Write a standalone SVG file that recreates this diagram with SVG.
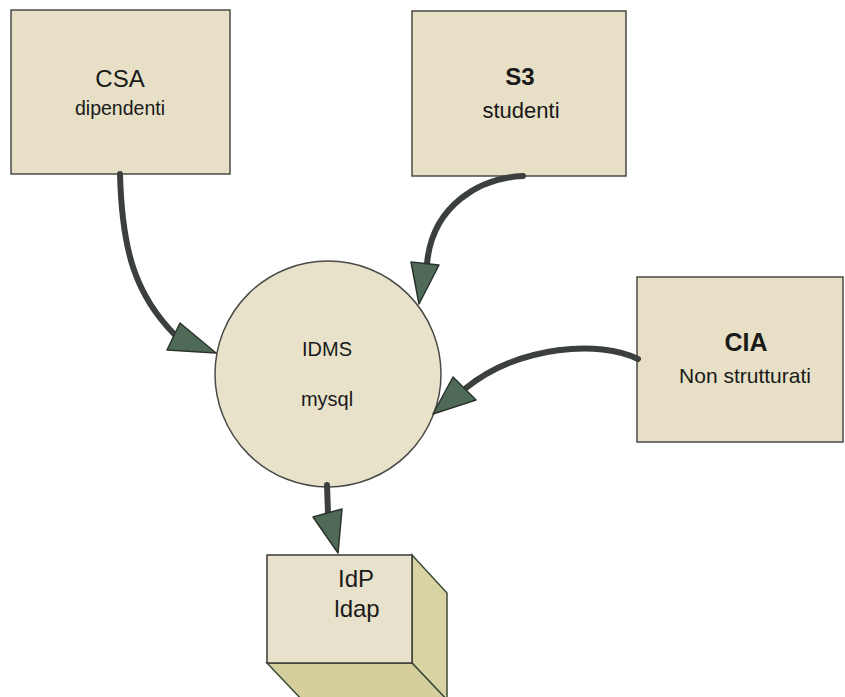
<svg xmlns="http://www.w3.org/2000/svg" width="845" height="697" viewBox="0 0 845 697">
<style>
.box{fill:#e7e0c6;stroke:#4a4a46;stroke-width:1.5}
.t{font-family:"Liberation Sans",Arial,sans-serif;fill:#1a1a1a;text-anchor:middle}
.b{font-weight:bold}
.line{fill:none;stroke:#3b403c;stroke-width:6;stroke-linecap:round}
.head{fill:#4f6b57;stroke:#2a332c;stroke-width:1.5;stroke-linejoin:round}
</style>
<rect width="845" height="697" fill="#ffffff"/>
<g id="csa">
<rect class="box" x="11" y="10" width="219" height="164"/>
<text class="t" x="120" y="87" font-size="24">CSA</text>
<text class="t" x="120" y="115" font-size="19.5">dipendenti</text>
</g>
<g id="s3">
<rect class="box" x="412" y="11" width="214" height="165"/>
<text class="t b" x="520" y="85" font-size="24">S3</text>
<text class="t" x="521" y="118" font-size="22">studenti</text>
</g>
<g id="cia">
<rect class="box" x="637" y="277" width="206" height="165"/>
<text class="t b" x="746" y="351" font-size="25">CIA</text>
<text class="t" x="745" y="383" font-size="21">Non strutturati</text>
</g>
<g id="idms">
<circle cx="328" cy="374" r="113" fill="#e8e2cb" stroke="#4a4a46" stroke-width="1.5"/>
<text class="t" x="327" y="356" font-size="20">IDMS</text>
<text class="t" x="327" y="406" font-size="20">mysql</text>
</g>
<g id="idp">
<polygon points="412,555 447,593 447,700 412,663" fill="#d8d3a3" stroke="#3e4a3a" stroke-width="1.5"/>
<polygon points="267,663 412,663 449,702 304,702" fill="#d4cf9c" stroke="#3e4a3a" stroke-width="1.5"/>
<rect x="267" y="555" width="145" height="108" fill="#e8e2cc" stroke="#3a3a36" stroke-width="1.5"/>
<text class="t" x="356" y="587" font-size="24">IdP</text>
<text class="t" x="357" y="617" font-size="24">ldap</text>
</g>
<g id="connectors">
<path class="line" d="M120,174 C122,250 135,295 176,336"/>
<polygon class="head" points="180,323 167,350 216,353"/>
<path class="line" d="M523,176 C480,178 432,205 427,264"/>
<polygon class="head" points="411,262 439,265 419,304"/>
<path class="line" d="M638,359 C600,340 520,345 466,388"/>
<polygon class="head" points="453,377 476,400 433,414"/>
<path class="line" d="M327,485 L328,513"/>
<polygon class="head" points="313,517 342,509 338,553"/>
</g>
</svg>
